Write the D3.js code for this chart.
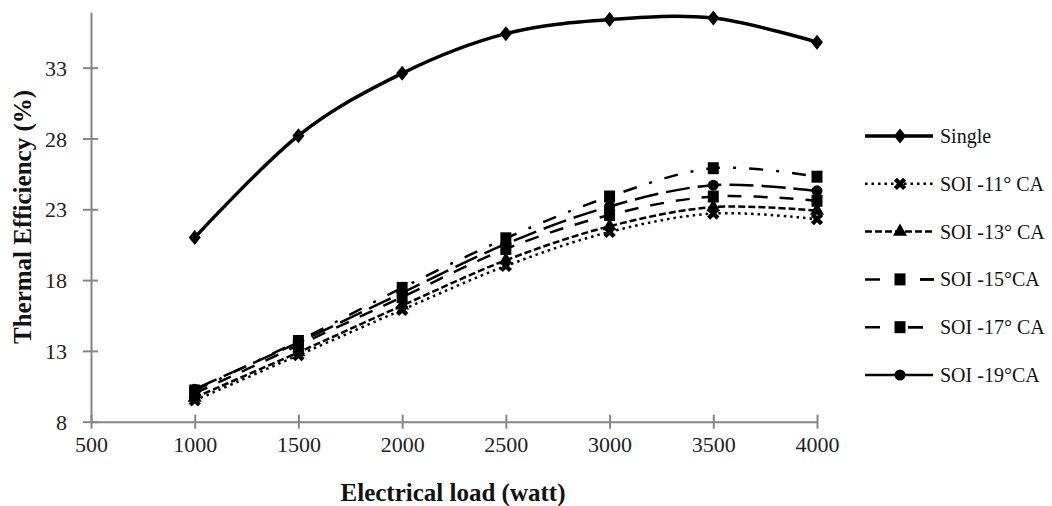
<!DOCTYPE html>
<html>
<head>
<meta charset="utf-8">
<script src="https://cdn.jsdelivr.net/npm/d3@7"></script>
<style>
  html, body { margin: 0; padding: 0; background: #fff; }
  svg { display: block; }
</style>
</head>
<body>
<svg id="chart" width="1052" height="506"></svg>
<script>
// ---------- data ----------
const loads = [1000, 1500, 2000, 2500, 3000, 3500, 4000];
const xTicks = [500, 1000, 1500, 2000, 2500, 3000, 3500, 4000];
const yTicks = [8, 13, 18, 23, 28, 33];
const seriesNames = ["Single", "SOI -11° CA", "SOI -13° CA", "SOI -15°CA", "SOI -17° CA", "SOI -19°CA"];
const single = [21.0, 28.2, 32.6, 35.4, 36.4, 36.5, 34.8];
const soi11  = [9.5, 12.7, 15.9, 19.0, 21.4, 22.7, 22.3];
const soi13  = [9.7, 12.9, 16.2, 19.4, 21.8, 23.15, 22.9];
const soi15  = [10.2, 13.7, 17.45, 20.95, 23.9, 25.9, 25.3];
const soi17  = [10.0, 13.4, 16.8, 20.2, 22.6, 23.9, 23.6];
const soi19  = [10.3, 13.6, 17.1, 20.55, 23.2, 24.7, 24.3];
const seriesValues = [single, soi11, soi13, soi15, soi17, soi19];

// ---------- styles ----------
const styles = [
  { width: 3.5, dash: null, legDash: null, legEnd: 933, marker: "diamond" },
  { width: 2.5, dash: "2.5,4", legDash: "2.5,4", legEnd: 933, marker: "x" },
  { width: 2.5, dash: "7,3", legDash: "7,3", legEnd: 933, marker: "triangle" },
  { width: 2.5, dash: "14,13,3,13", legDash: "15,40", legEnd: 934, marker: "square" },
  { width: 2.5, dash: "14,12", legDash: "15,28", legEnd: 923, marker: "square" },
  { width: 2.5, dash: "24,8", legDash: null, legEnd: 933, marker: "circle" }
];

const svg = d3.select("#chart");
const x = d3.scaleLinear().domain([500, 4000]).range([91, 817]);
const y = d3.scaleLinear().domain([8, 36.93]).range([421.7, 12]);
const axisColor = "#868686";
const serif = "'Liberation Serif', 'Times New Roman', serif";

// axes
const xAxis = svg.append("g").attr("transform", `translate(0,${y(8)})`)
  .call(d3.axisBottom(x).tickValues(xTicks).tickSize(0).tickPadding(0).tickFormat(d3.format("d")));
xAxis.select(".domain").attr("stroke", axisColor).attr("stroke-width", 2);
xAxis.selectAll(".tick line").remove();
xAxis.selectAll(".tick").append("line").attr("y1", -7).attr("y2", 7)
  .attr("stroke", axisColor).attr("stroke-width", 2);
xAxis.selectAll(".tick text").attr("y", 30).attr("dy", 0)
  .attr("font-family", serif).attr("font-size", 22).attr("fill", "#222");

const yAxis = svg.append("g").attr("transform", `translate(${x(500)},0)`)
  .call(d3.axisLeft(y).tickValues(yTicks).tickSize(0).tickPadding(0));
yAxis.select(".domain").attr("stroke", axisColor).attr("stroke-width", 2);
yAxis.selectAll(".tick line").remove();
yAxis.selectAll(".tick").append("line").attr("x1", -8).attr("x2", 7)
  .attr("stroke", axisColor).attr("stroke-width", 2);
yAxis.selectAll(".tick text").attr("x", -24).attr("dy", "0.35em")
  .attr("font-family", serif).attr("font-size", 22).attr("fill", "#222");

// titles
svg.append("text").attr("x", 453).attr("y", 501).attr("text-anchor", "middle")
  .attr("font-family", serif).attr("font-weight", "bold").attr("font-size", 25)
  .attr("fill", "#111").text("Electrical load (watt)");
svg.append("text").attr("transform", "translate(31,217) rotate(-90)").attr("text-anchor", "middle")
  .attr("font-family", serif).attr("font-weight", "bold").attr("font-size", 25)
  .attr("fill", "#111").text("Thermal Efficiency (%)");

// markers
function markerPath(type) {
  switch (type) {
    case "diamond": return "M0,-7.5L6,0L0,7.5L-6,0Z";
    case "square": return "M-5.5,-6H5.5V6H-5.5Z";
    case "circle": return d3.symbol(d3.symbolCircle, 95)();
    case "triangle": return d3.symbol(d3.symbolTriangle, 85)();
    case "x": return d3.symbol(d3.symbolCross, 95)();
  }
}
function drawMarker(g, type, cx, cy) {
  const p = g.append("path").attr("d", markerPath(type)).attr("fill", "#000");
  if (type === "x") p.attr("transform", `translate(${cx},${cy}) rotate(45)`);
  else p.attr("transform", `translate(${cx},${cy})`);
}

const line = d3.line().x((d, i) => x(loads[i])).y(d => y(d)).curve(d3.curveCatmullRom.alpha(0));

const plot = svg.append("g");
seriesValues.forEach((vals, si) => {
  const st = styles[si];
  const g = plot.append("g");
  g.append("path").datum(vals).attr("d", line).attr("fill", "none")
    .attr("stroke", "#000").attr("stroke-width", st.width)
    .attr("stroke-dasharray", st.dash).attr("stroke-linecap", "butt");
  vals.forEach((v, i) => drawMarker(g, st.marker, x(loads[i]), y(v)));
});

// legend
const legY0 = 136, legDy = 47.8;
const leg = svg.append("g");
seriesNames.forEach((name, si) => {
  const st = styles[si];
  const ly = legY0 + si * legDy;
  const ln = leg.append("line").attr("x1", 865).attr("x2", st.legEnd).attr("y1", ly).attr("y2", ly)
    .attr("stroke", "#000").attr("stroke-width", st.width).attr("stroke-dasharray", st.legDash);
  if (si === 3) {
    leg.append("line").attr("x1", 920).attr("x2", 934).attr("y1", ly).attr("y2", ly)
      .attr("stroke", "#000").attr("stroke-width", st.width);
  }
  if (si === 4) {
    leg.append("line").attr("x1", 908).attr("x2", 923).attr("y1", ly).attr("y2", ly)
      .attr("stroke", "#000").attr("stroke-width", st.width);
  }
  drawMarker(leg, st.marker, 900, ly);
  leg.append("text").attr("x", 940).attr("y", ly).attr("dy", "0.35em")
    .attr("font-family", serif).attr("font-size", 20).attr("fill", "#111").text(name);
});
</script>
</body>
</html>
